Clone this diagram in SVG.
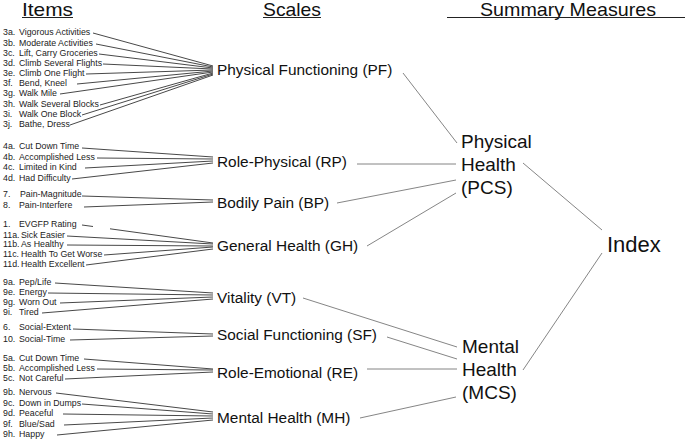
<svg xmlns="http://www.w3.org/2000/svg" width="685" height="440" viewBox="0 0 685 440">
<style>
text{font-family:"Liberation Sans",Arial,sans-serif;fill:#111}
.hd{font-size:19px}
.it{font-size:8.8px;fill:#222}
.sc{font-size:15.4px}
.sm{font-size:19px}
.ix{font-size:22px}
.il{stroke:#333;stroke-width:0.9;fill:none}
.sl{stroke:#666;stroke-width:0.8;fill:none}
.ul{stroke:#222;stroke-width:1}
</style>
<rect width="685" height="440" fill="#fff"/>
<g id="headers">
<text class="hd" x="22" y="16" textLength="51" lengthAdjust="spacingAndGlyphs">Items</text>
<line class="ul" x1="22" y1="17.5" x2="73" y2="17.5"/>
<text class="hd" x="263" y="16" textLength="58" lengthAdjust="spacingAndGlyphs">Scales</text>
<line class="ul" x1="263" y1="17.5" x2="321" y2="17.5"/>
<text class="hd" x="480" y="16" textLength="176" lengthAdjust="spacingAndGlyphs">Summary  Measures</text>
<line class="ul" x1="447" y1="17.5" x2="685" y2="17.5"/>
</g>
<g id="items">
<g id="i3a"><text class="it" x="3" y="35">3a.</text><text class="it" x="19" y="35">Vigorous Activities</text></g>
<g id="i3b"><text class="it" x="3" y="46">3b.</text><text class="it" x="19" y="46">Moderate Activities</text></g>
<g id="i3c"><text class="it" x="3" y="56">3c.</text><text class="it" x="19" y="56">Lift, Carry Groceries</text></g>
<g id="i3d"><text class="it" x="3" y="66">3d.</text><text class="it" x="19" y="66">Climb Several Flights</text></g>
<g id="i3e"><text class="it" x="3" y="76">3e.</text><text class="it" x="19" y="76">Climb One Flight</text></g>
<g id="i3f"><text class="it" x="3" y="86">3f.</text><text class="it" x="19" y="86">Bend, Kneel</text></g>
<g id="i3g"><text class="it" x="3" y="96">3g.</text><text class="it" x="19" y="96">Walk Mile</text></g>
<g id="i3h"><text class="it" x="3" y="107">3h.</text><text class="it" x="19" y="107">Walk Several Blocks</text></g>
<g id="i3i"><text class="it" x="3" y="117">3i.</text><text class="it" x="19" y="117">Walk One Block</text></g>
<g id="i3j"><text class="it" x="3" y="127">3j.</text><text class="it" x="19" y="127">Bathe, Dress</text></g>
<g id="i4a"><text class="it" x="3" y="149">4a.</text><text class="it" x="19" y="149">Cut Down Time</text></g>
<g id="i4b"><text class="it" x="3" y="160">4b.</text><text class="it" x="19" y="160">Accomplished Less</text></g>
<g id="i4c"><text class="it" x="3" y="170">4c.</text><text class="it" x="19" y="170">Limited in Kind</text></g>
<g id="i4d"><text class="it" x="3" y="181">4d.</text><text class="it" x="19" y="181">Had Difficulty</text></g>
<g id="i7"><text class="it" x="3" y="197">7.</text><text class="it" x="20" y="197">Pain-Magnitude</text></g>
<g id="i8"><text class="it" x="3" y="208">8.</text><text class="it" x="19" y="208">Pain-Interfere</text></g>
<g id="i1"><text class="it" x="3" y="227">1.</text><text class="it" x="19" y="227">EVGFP Rating</text></g>
<g id="i11a"><text class="it" x="3" y="238">11a.</text><text class="it" x="21" y="238">Sick Easier</text></g>
<g id="i11b"><text class="it" x="3" y="247">11b.</text><text class="it" x="21" y="247">As Healthy</text></g>
<g id="i11c"><text class="it" x="3" y="257">11c.</text><text class="it" x="21" y="257">Health To Get Worse</text></g>
<g id="i11d"><text class="it" x="3" y="267">11d.</text><text class="it" x="21" y="267">Health Excellent</text></g>
<g id="i9a"><text class="it" x="3" y="285">9a.</text><text class="it" x="19" y="285">Pep/Life</text></g>
<g id="i9e"><text class="it" x="3" y="295">9e.</text><text class="it" x="19" y="295">Energy</text></g>
<g id="i9g"><text class="it" x="3" y="305">9g.</text><text class="it" x="19" y="305">Worn Out</text></g>
<g id="i9i"><text class="it" x="3" y="315">9i.</text><text class="it" x="19" y="315">Tired</text></g>
<g id="i6"><text class="it" x="3" y="330">6.</text><text class="it" x="19" y="330">Social-Extent</text></g>
<g id="i10"><text class="it" x="3" y="342">10.</text><text class="it" x="19" y="342">Social-Time</text></g>
<g id="i5a"><text class="it" x="3" y="361">5a.</text><text class="it" x="19" y="361">Cut Down Time</text></g>
<g id="i5b"><text class="it" x="3" y="371">5b.</text><text class="it" x="19" y="371">Accomplished Less</text></g>
<g id="i5c"><text class="it" x="3" y="381">5c.</text><text class="it" x="19" y="381">Not Careful</text></g>
<g id="i9b"><text class="it" x="3" y="395">9b.</text><text class="it" x="19" y="395">Nervous</text></g>
<g id="i9c"><text class="it" x="3" y="406">9c.</text><text class="it" x="19" y="406">Down in Dumps</text></g>
<g id="i9d"><text class="it" x="3" y="416">9d.</text><text class="it" x="19" y="416">Peaceful</text></g>
<g id="i9f"><text class="it" x="3" y="427">9f.</text><text class="it" x="19" y="427">Blue/Sad</text></g>
<g id="i9h"><text class="it" x="3" y="437">9h.</text><text class="it" x="19" y="437">Happy</text></g>
</g>
<g id="scales">
<g id="PF"><text class="sc" x="217" y="75">Physical Functioning (PF)</text></g>
<g id="RP"><text class="sc" x="217" y="167">Role-Physical (RP)</text></g>
<g id="BP"><text class="sc" x="217" y="208">Bodily Pain (BP)</text></g>
<g id="GH"><text class="sc" x="217" y="251">General Health (GH)</text></g>
<g id="VT"><text class="sc" x="217" y="303">Vitality (VT)</text></g>
<g id="SF"><text class="sc" x="217" y="340">Social Functioning (SF)</text></g>
<g id="RE"><text class="sc" x="217" y="378">Role-Emotional (RE)</text></g>
<g id="MH"><text class="sc" x="217" y="423">Mental Health (MH)</text></g>
</g>
<g id="PCS"><text class="sm" x="461" y="148">Physical</text><text class="sm" x="461" y="171">Health</text><text class="sm" x="461" y="194">(PCS)</text></g>
<g id="MCS"><text class="sm" x="462" y="353">Mental</text><text class="sm" x="462" y="376">Health</text><text class="sm" x="462" y="399">(MCS)</text></g>
<g id="Index"><text class="ix" x="607" y="252">Index</text></g>
<g id="connectors">
<path class="il" d="M93,33L213,66M96,44L213,67M99,54L213,68M103,64L213,69M86,74L213,70M77,84L213,71M60,94L213,72M100,105L213,73M82,115L213,74M70,125L213,75"/>
<path class="il" d="M82,148L213,157M97,158L213,159M85,168L213,161M72,179L213,163"/>
<path class="il" d="M82,196L213,200M84,207L213,202"/>
<path class="il" d="M82,225L93,226.5M110,228.8L213,243M67,236L213,244M67,245L213,246M104,255L213,247M86,265L213,249"/>
<path class="il" d="M55,283L213,293M48,293L213,295M60,303L213,297M42,313L213,299"/>
<path class="il" d="M73,329L213,334M70,340L213,336"/>
<path class="il" d="M84,359L213,369M97,369L213,370M65,379L213,372"/>
<path class="il" d="M56,393L213,412M82,404L213,414M63,414L213,416M64,425L213,418M57,435L213,420"/>
<path class="sl" d="M403,73L457,143M357,164L456,164M337,203L456,180M367,246L456,193"/>
<path class="sl" d="M303,298L457,347M387,337L457,359M367,369L457,369M360,418L456,397"/>
<path class="sl" d="M523,163L602,230M602,253L523,370"/>
</g>
</svg>
